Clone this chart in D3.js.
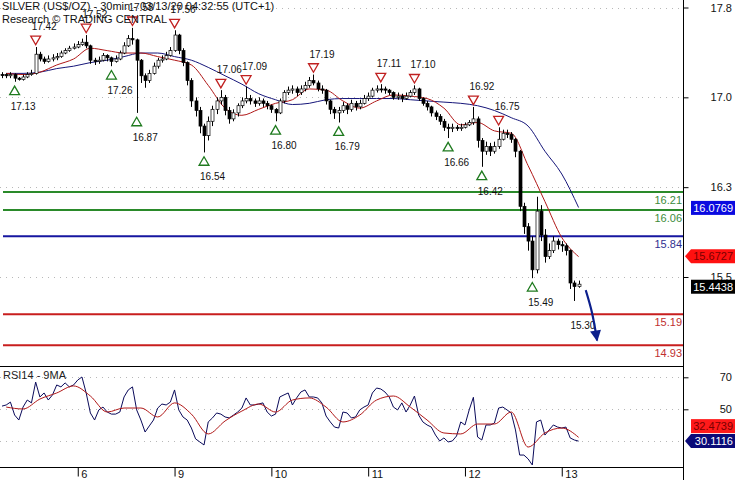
<!DOCTYPE html>
<html>
<head>
<meta charset="utf-8">
<script src="https://cdn.jsdelivr.net/npm/d3@7"></script>
<style>
  body { margin: 0; background: #fff; }
  svg text { font-family: "Liberation Sans", Arial, sans-serif; }
</style>
</head>
<body>
<svg id="chart" width="735" height="480"></svg>
<script>
// hourly bars, Mar 5 -> Mar 13
var closes = [
  17.19,17.18,17.19,17.16,17.15,17.17,17.19,17.20,17.36,17.32,
  17.30,17.32,17.33,17.34,17.37,17.39,17.41,17.42,17.44,17.46,
  17.43,17.31,17.30,17.31,17.35,17.33,17.30,17.32,17.37,17.43,
  17.49,17.48,17.31,17.18,17.14,17.20,17.26,17.31,17.32,17.35,
  17.39,17.52,17.39,17.29,17.14,16.97,16.89,16.76,16.68,16.80,
  16.90,16.97,17.00,16.89,16.82,16.87,16.93,16.97,16.99,16.97,
  16.95,16.97,16.95,16.93,16.90,16.87,16.97,17.04,17.06,17.07,
  17.04,17.07,17.10,17.14,17.12,17.07,17.06,16.97,16.90,16.87,
  16.89,16.93,16.90,16.95,16.92,16.95,16.99,17.01,17.06,17.07,
  17.07,17.06,17.04,17.00,17.01,16.99,17.01,17.04,17.07,16.99,
  16.95,16.92,16.87,16.84,16.80,16.75,16.74,16.75,16.74,16.75,
  16.77,16.79,16.82,16.64,16.55,16.59,16.55,16.59,16.65,16.70,
  16.69,16.65,16.55,16.09,15.92,15.80,15.56,16.05,15.85,15.67,
  15.72,15.80,15.77,15.76,15.72,15.45,15.42,15.44
];
var highs = [
  17.21,17.20,17.21,17.20,17.17,17.19,17.21,17.23,17.42,17.38,
  17.34,17.35,17.36,17.37,17.39,17.41,17.43,17.45,17.47,17.49,
  17.52,17.44,17.33,17.34,17.37,17.36,17.34,17.35,17.39,17.46,
  17.52,17.58,17.49,17.32,17.20,17.23,17.29,17.33,17.35,17.38,
  17.42,17.56,17.53,17.41,17.30,17.16,17.00,16.92,16.78,16.84,
  16.93,17.00,17.06,17.02,16.92,16.90,16.95,17.00,17.09,17.02,
  16.99,17.00,16.99,16.97,16.94,16.91,16.99,17.06,17.09,17.10,
  17.09,17.10,17.13,17.17,17.19,17.14,17.10,17.07,16.98,16.92,
  16.92,16.96,16.95,16.98,16.97,16.98,17.02,17.04,17.08,17.10,
  17.11,17.09,17.07,17.05,17.04,17.03,17.04,17.06,17.10,17.08,
  17.00,16.97,16.93,16.89,16.86,16.82,16.78,16.78,16.77,16.78,
  16.79,16.81,16.92,16.84,16.66,16.63,16.62,16.63,16.75,16.73,
  16.73,16.71,16.66,16.56,16.12,15.95,15.84,16.17,16.10,15.90,
  15.78,15.84,15.82,15.80,15.78,15.73,15.47,15.47
];
var lows = [
  17.16,17.16,17.16,17.13,17.14,17.14,17.16,17.18,17.19,17.30,
  17.28,17.29,17.30,17.31,17.33,17.36,17.38,17.40,17.41,17.43,
  17.41,17.28,17.27,17.28,17.30,17.30,17.26,17.29,17.31,17.36,
  17.42,17.44,16.87,17.12,17.08,17.12,17.19,17.24,17.29,17.31,
  17.34,17.38,17.36,17.26,17.10,16.92,16.84,16.70,16.54,16.64,
  16.76,16.86,16.94,16.85,16.78,16.80,16.84,16.91,16.95,16.94,
  16.92,16.93,16.92,16.90,16.87,16.80,16.86,16.95,17.02,17.03,
  17.01,17.02,17.05,17.08,17.10,17.05,17.03,16.94,16.86,16.82,
  16.79,16.87,16.86,16.88,16.89,16.90,16.94,16.97,17.00,17.04,
  17.04,17.03,17.02,16.98,16.98,16.96,16.98,17.00,17.02,16.97,
  16.93,16.89,16.84,16.81,16.77,16.72,16.66,16.71,16.72,16.72,
  16.74,16.76,16.77,16.58,16.42,16.52,16.51,16.53,16.57,16.64,
  16.66,16.62,16.50,16.05,15.86,15.72,15.49,15.53,15.80,15.62,
  15.65,15.70,15.73,15.71,15.68,15.40,15.30,15.41
];

// moving averages, one value every 4 bars starting at bar 1
var maStep = 4;
var maFast = [17.20,17.19,17.21,17.27,17.32,17.41,17.39,17.37,17.37,17.34,
  17.31,17.27,17.10,16.91,16.85,16.90,16.95,16.98,17.07,17.06,
  16.97,16.91,16.97,17.02,17.01,16.99,16.91,16.77,16.79,16.72,
  16.70,16.43,16.13,15.83,15.67];
var maSlow = [17.20,17.20,17.21,17.24,17.26,17.29,17.31,17.34,17.37,17.37,
  17.34,17.31,17.25,17.18,17.11,17.03,16.98,16.94,16.95,16.98,
  16.99,16.99,16.99,16.99,16.98,16.97,16.96,16.95,16.93,16.89,
  16.83,16.76,16.55,16.36,16.08];

var rsi = [
  52,52.7,54.5,46.4,43.3,51.4,55.8,54,67,57.7,
  60.2,55.8,59,65.2,64,66.5,64,65.2,68.3,70.2,
  60.2,47.7,43.3,49.6,51.4,48.3,47,47,48.3,57.7,
  62.1,64,49.6,43.3,35.8,39.6,43.3,50.8,53.3,52.7,
  54.5,62.1,49.6,45.2,43.3,38.3,31.5,29.6,27.7,42.1,
  44.6,47.7,47,45.2,44.6,46.4,48.3,50.8,57.1,52.7,
  52.7,53.3,54,48.3,45.8,47,57.7,59,60.2,52.7,
  57.1,60.8,62.1,57.7,57.7,57.1,54,45.8,42.1,38.9,
  38.3,48.3,47.7,44.6,45.2,49.6,51.4,52.7,60.2,63.3,
  62.7,60.8,57.7,51.4,49.6,54,48.3,52.7,58.3,46.4,
  42.1,40.2,38.9,33.9,30.2,32.1,29.6,30.2,33.3,42.1,
  40.2,49.6,57.5,32.7,30.8,40.2,40.2,41.4,50.8,51.4,
  49.6,47.7,37.1,21.4,21.4,19,15.2,42.1,43.3,33.9,
  37.1,40.2,38.9,38.3,38.9,32.1,30.8,30.1116
];
var rsiMa = [51.4,50.2,56.4,60.2,64.6,58.3,48.3,50.8,50.8,45.2,
  54,47,34.6,42.7,48.9,53.3,48.3,55.8,57.1,51.4,
  42.1,46.4,55.8,58.3,51.4,43.3,35.2,34.6,40.8,40.8,
  48.3,26.4,35.2,38.3,32.4739];

var dayLabels = ["6", "9", "10", "11", "12", "13"];
var dayStarts = [18, 41, 64, 87, 110, 133];
var priceTicks = [15.5, 16.25, 17.0, 17.75];
var rsiTicks = [30, 50, 70];

var swingHighs = [
  {i: 8, v: 17.42}, {i: 20, v: 17.52}, {i: 31, v: 17.58}, {i: 41, v: 17.56},
  {i: 52, v: 17.06}, {i: 58, v: 17.09}, {i: 74, v: 17.19}, {i: 90, v: 17.11},
  {i: 98, v: 17.10}, {i: 112, v: 16.92}, {i: 118, v: 16.75}
];
var swingLows = [
  {i: 3, v: 17.13}, {i: 26, v: 17.26}, {i: 32, v: 16.87}, {i: 48, v: 16.54},
  {i: 65, v: 16.80}, {i: 80, v: 16.79}, {i: 106, v: 16.66}, {i: 114, v: 16.42},
  {i: 126, v: 15.49}, {i: 136, v: 15.30, noMark: true}
];

var levelValues = [16.21, 16.06, 15.84, 15.19, 14.93];
var levelKinds = ["res", "res", "pivot", "sup", "sup"];
var projection = [[138.7, 15.39], [140.2, 15.20], [141.4, 14.97]];

var lastPrice = 15.4438, lastFast = 15.6727, lastSlow = 16.0769;
var lastRsi = 30.1116, lastRsiMa = 32.4739;

var titleLines = ["SILVER (US$/OZ) - 30min - 03/13/20 04:32:55 (UTC+1)",
  "Research \u00a9 TRADING CENTRAL"];

// ---------------------------------------------------------------
var plotRight = 683,
  mainBottom = 366.5,
  rsiBottom = 467.5,
  labelEnd = 732;

var levelColor = {res: "#2a8a2a", pivot: "#1616a0", sup: "#c81e1e"};
var levelText = {res: "#3c8c3c", pivot: "#303090", sup: "#c03030"};

var x = d3.scaleLinear().domain([0, 137]).range([2, 578.6]);
var y = d3.scaleLinear().domain([15.5, 17.75]).range([277, 7.5]);
var yR = d3.scaleLinear().domain([30, 70]).range([441.3, 377.3]);
var fmt1 = d3.format(".1f"), fmt2 = d3.format(".2f"), fmt4 = d3.format(".4f");

var svg = d3.select("#chart");

svg.append("defs").append("clipPath").attr("id", "clipMain")
  .append("rect").attr("x", 0).attr("y", 0).attr("width", plotRight).attr("height", mainBottom);
svg.select("defs").append("clipPath").attr("id", "clipRsi")
  .append("rect").attr("x", 0).attr("y", mainBottom).attr("width", plotRight).attr("height", rsiBottom - mainBottom);
svg.select("defs").append("marker")
  .attr("id", "head").attr("viewBox", "0 0 10 10")
  .attr("refX", 9).attr("refY", 5)
  .attr("markerWidth", 13).attr("markerHeight", 11)
  .attr("markerUnits", "userSpaceOnUse")
  .attr("orient", "auto")
  .append("path").attr("d", "M0,0L10,5L0,10z").attr("fill", "#0c1f8c");

// grid
var grid = svg.append("g").attr("stroke", "#b8b8b8").attr("stroke-dasharray", "1,5");
grid.selectAll(".gp").data(priceTicks).enter().append("line")
  .attr("x1", 0).attr("x2", plotRight)
  .attr("y1", d => Math.round(y(d)) + 0.5).attr("y2", d => Math.round(y(d)) + 0.5);
grid.selectAll(".gr").data(rsiTicks).enter().append("line")
  .attr("x1", 0).attr("x2", plotRight)
  .attr("y1", d => Math.round(yR(d)) + 0.5).attr("y2", d => Math.round(yR(d)) + 0.5);

var gMain = svg.append("g").attr("clip-path", "url(#clipMain)");

// support / resistance levels
var levels = levelValues.map((v, k) => ({v: v, kind: levelKinds[k]}));
gMain.selectAll(".lvl").data(levels).enter().append("line")
  .attr("x1", 3).attr("x2", plotRight)
  .attr("y1", d => y(d.v)).attr("y2", d => y(d.v))
  .attr("stroke", d => levelColor[d.kind]).attr("stroke-width", 2);
gMain.selectAll(".lvlt").data(levels).enter().append("text")
  .attr("x", plotRight - 1).attr("y", d => y(d.v) + 12)
  .attr("text-anchor", "end").attr("font-size", 11)
  .attr("fill", d => levelText[d.kind])
  .text(d => fmt2(d.v));

// moving averages
var maLine = d3.line()
  .x((d, k) => x(1 + k * maStep))
  .y(d => y(d))
  .curve(d3.curveMonotoneX);
gMain.append("path").datum(maSlow).attr("d", maLine)
  .attr("fill", "none").attr("stroke", "#16167a").attr("stroke-width", 1);
gMain.append("path").datum(maFast).attr("d", maLine)
  .attr("fill", "none").attr("stroke", "#b01818").attr("stroke-width", 1);

// candles
var bars = closes.map(function (c, i) {
  return {i: i, o: i ? closes[i - 1] : c, c: c, h: highs[i], l: lows[i]};
});
var candle = gMain.selectAll(".candle").data(bars).enter().append("g");
candle.append("line")
  .attr("x1", d => Math.round(x(d.i)) + 0.5).attr("x2", d => Math.round(x(d.i)) + 0.5)
  .attr("y1", d => y(d.h)).attr("y2", d => y(d.l))
  .attr("stroke", "#000").attr("stroke-width", 1);
candle.append("rect")
  .attr("x", d => Math.round(x(d.i)) - 1)
  .attr("width", 3)
  .attr("y", d => y(Math.max(d.o, d.c)))
  .attr("height", d => Math.max(1, Math.abs(y(d.o) - y(d.c))))
  .attr("fill", d => d.c > d.o ? "#fff" : "#000")
  .attr("stroke", "#000").attr("stroke-width", 0.7);

// swing markers
var tri = d3.symbol().type(d3.symbolTriangle).size(42);
gMain.selectAll(".sh").data(swingHighs).enter().append("path")
  .attr("d", tri)
  .attr("transform", d => "translate(" + x(d.i) + "," + (y(d.v) - 8) + ") rotate(180)")
  .attr("fill", "#fff").attr("stroke", "#c02020").attr("stroke-width", 1.3);
gMain.selectAll(".sht").data(swingHighs).enter().append("text")
  .attr("x", d => x(d.i) - 4).attr("y", d => y(d.v) - 17)
  .attr("font-size", 10).attr("fill", "#111")
  .text(d => fmt2(d.v));
gMain.selectAll(".sl").data(swingLows.filter(d => !d.noMark)).enter().append("path")
  .attr("d", tri)
  .attr("transform", d => "translate(" + x(d.i) + "," + (y(d.v) + 10) + ")")
  .attr("fill", "#fff").attr("stroke", "#1e7a1e").attr("stroke-width", 1.3);
gMain.selectAll(".slt").data(swingLows).enter().append("text")
  .attr("x", d => x(d.i) - 4).attr("y", d => y(d.v) + 28)
  .attr("font-size", 10).attr("fill", "#111")
  .text(d => fmt2(d.v));

// projected move
gMain.append("path").datum(projection)
  .attr("d", d3.line().x(d => x(d[0])).y(d => y(d[1])).curve(d3.curveNatural))
  .attr("fill", "none").attr("stroke", "#0c1f8c").attr("stroke-width", 2.2)
  .attr("marker-end", "url(#head)");

// RSI panel
var gRsi = svg.append("g").attr("clip-path", "url(#clipRsi)");
gRsi.append("path").datum(rsi)
  .attr("d", d3.line().x((d, i) => x(i)).y(d => yR(d)))
  .attr("fill", "none").attr("stroke", "#0a0a5a").attr("stroke-width", 1);
gRsi.append("path").datum(rsiMa)
  .attr("d", d3.line().x((d, k) => x(1 + k * maStep)).y(d => yR(d)).curve(d3.curveMonotoneX))
  .attr("fill", "none").attr("stroke", "#b01818").attr("stroke-width", 1);

svg.append("text").attr("x", 3).attr("y", 379).attr("font-size", 11)
  .attr("fill", "#222").text("RSI14 - 9MA");

// frame
var frame = svg.append("g").attr("stroke", "#000").attr("stroke-width", 1.5).attr("shape-rendering", "crispEdges");
frame.append("line").attr("x1", 0).attr("x2", plotRight).attr("y1", mainBottom).attr("y2", mainBottom);
frame.append("line").attr("x1", 0).attr("x2", plotRight).attr("y1", rsiBottom).attr("y2", rsiBottom);
frame.append("line").attr("x1", plotRight + 0.5).attr("x2", plotRight + 0.5).attr("y1", 0).attr("y2", 480);

// right axes: labels right-aligned near the window edge
var pad = labelEnd - (plotRight + 0.5) - 5;
var priceAxis = d3.axisRight(y).tickValues(priceTicks).tickFormat(fmt1).tickSize(5).tickPadding(pad);
svg.append("g").attr("transform", "translate(" + (plotRight + 0.5) + ",0)").call(priceAxis)
  .call(g => g.select(".domain").remove())
  .call(g => g.selectAll("text").attr("text-anchor", "end").attr("font-size", 11).attr("font-family", null).attr("fill", "#111"));
var rsiAxis = d3.axisRight(yR).tickValues([50, 70]).tickSize(5).tickPadding(pad);
svg.append("g").attr("transform", "translate(" + (plotRight + 0.5) + ",0)").call(rsiAxis)
  .call(g => g.select(".domain").remove())
  .call(g => g.selectAll("text").attr("text-anchor", "end").attr("font-size", 11).attr("font-family", null).attr("fill", "#111"));

// date axis
var dateAxis = d3.axisBottom(x).tickValues(dayStarts)
  .tickFormat((d, k) => dayLabels[k]).tickSize(9).tickPadding(-8);
svg.append("g").attr("transform", "translate(0," + rsiBottom + ")").call(dateAxis)
  .call(g => g.select(".domain").remove())
  .call(g => g.selectAll("text").attr("text-anchor", "start").attr("dx", 3).attr("dy", "0.9em")
    .attr("font-size", 11).attr("font-family", null).attr("fill", "#111"));

// value badges
function badge(cy, value, fill, textFill, pointer) {
  var g = svg.append("g");
  var top = cy - 7, left = 691;
  if (pointer) {
    g.append("path")
      .attr("d", "M" + (plotRight + 2) + "," + cy + "L" + left + "," + top + "L735," + top +
        "L735," + (top + 14) + "L" + left + "," + (top + 14) + "Z")
      .attr("fill", fill);
  } else {
    g.append("rect").attr("x", left).attr("y", top).attr("width", 44).attr("height", 14).attr("fill", fill);
  }
  g.append("text").attr("x", 733).attr("y", cy + 4).attr("text-anchor", "end")
    .attr("font-size", 11).attr("fill", textFill).text(fmt4(value));
}
badge(y(lastSlow), lastSlow, "#0a0ae0", "#fff", false);
badge(y(lastFast), lastFast, "#ff1010", "#7a0000", true);
badge(y(lastPrice) + 3, lastPrice, "#000", "#fff", false);
var rsiY = yR(lastRsi), rsiMaY = Math.min(yR(lastRsiMa), rsiY - 15);
badge(rsiMaY, lastRsiMa, "#ff1a1a", "#7a0000", false);
badge(rsiY, lastRsi, "#0a0a78", "#fff", true);

// title
svg.selectAll(".title").data(titleLines).enter().append("text")
  .attr("x", 2).attr("y", (d, k) => 10 + k * 13)
  .attr("font-size", 11).attr("fill", "#111")
  .text(d => d);
</script>
</body>
</html>
